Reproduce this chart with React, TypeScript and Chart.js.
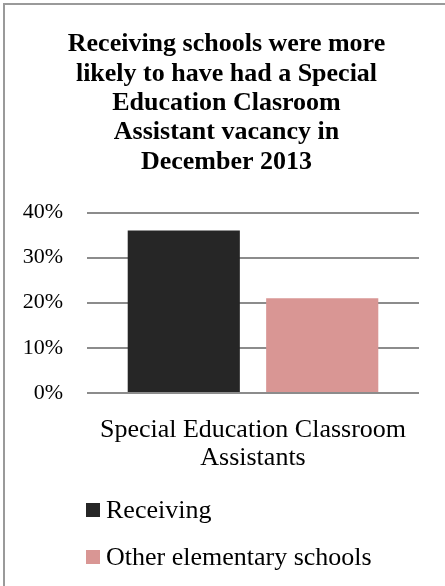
import React, { useEffect, useRef } from "react";
import { Chart, registerables } from "chart.js";

Chart.register(...registerables);

const titleLines = [
  "Receiving schools were more",
  "likely to have had a Special",
  "Education Clasroom",
  "Assistant vacancy in",
  "December 2013",
];
const categories = [["Special Education Classroom", "Assistants"]];
const seriesNames = ["Receiving", "Other elementary schools"];
const receivingValues = [36];
const otherValues = [21];
const seriesColors = ["#262626", "#d99694"];
const yTicks = [0, 10, 20, 30, 40];

const FONT = '"Liberation Serif", "Times New Roman", serif';

const legendPlugin = {
  id: "verticalLegend",
  afterDraw(chart: any) {
    const ctx = chart.ctx;
    const xScale = chart.scales.x;
    const left = chart.chartArea.left - 1;
    const startY = xScale.bottom + 14;
    const rowGap = 47;
    ctx.save();
    ctx.font = `26px ${FONT}`;
    ctx.textBaseline = "middle";
    ctx.textAlign = "left";
    chart.data.datasets.forEach((ds: any, i: number) => {
      const cy = startY + i * rowGap;
      ctx.fillStyle = ds.backgroundColor;
      ctx.fillRect(left, cy - 7, 14, 14);
      ctx.fillStyle = "#000";
      ctx.fillText(ds.label, left + 20, cy + 1);
    });
    ctx.restore();
  },
};

export default function App() {
  const ref = useRef<HTMLCanvasElement | null>(null);
  useEffect(() => {
    if (!ref.current) return;
    const chart = new Chart(ref.current, {
      type: "bar",
      data: {
        labels: categories as any,
        datasets: [
          {
            label: seriesNames[0],
            data: receivingValues,
            backgroundColor: seriesColors[0],
            categoryPercentage: 0.834,
            barPercentage: 0.81,
          },
          {
            label: seriesNames[1],
            data: otherValues,
            backgroundColor: seriesColors[1],
            categoryPercentage: 0.834,
            barPercentage: 0.81,
          },
        ],
      },
      options: {
        responsive: false,
        animation: false,
        layout: { padding: { top: 0, left: 20, right: 12, bottom: 90 } },
        plugins: {
          legend: { display: false },
          tooltip: { enabled: false },
          title: {
            display: true,
            text: titleLines,
            color: "#000",
            font: { family: FONT, size: 26, weight: "bold", lineHeight: 1.127 },
            padding: { top: 30, bottom: 36 },
          },
        },
        scales: {
          y: {
            min: yTicks[0],
            max: yTicks[yTicks.length - 1],
            afterBuildTicks: (axis: any) => {
              axis.ticks = yTicks.map((v) => ({ value: v }));
            },
            afterFit: (axis: any) => {
              axis.width = 67;
            },
            ticks: {
              color: "#000",
              font: { family: FONT, size: 22 },
              padding: 24,
              callback: (v: any) => `${v}%`,
            },
            grid: { color: "#8c8c8c", lineWidth: 2, drawTicks: false },
            border: { display: false },
          },
          x: {
            afterFit: (axis: any) => {
              axis.paddingLeft = 0;
              axis.paddingRight = 26;
            },
            ticks: {
              color: "#000",
              font: { family: FONT, size: 26, lineHeight: 1.06 },
              padding: 24,
            },
            grid: { display: false, drawTicks: false },
            border: { display: false },
          },
        },
      },
      plugins: [legendPlugin],
    });
    return () => chart.destroy();
  }, []);

  return (
    <div
      style={{
        position: "fixed",
        left: 0,
        top: 0,
        width: 445,
        height: 586,
        background: "#fff",
        overflow: "hidden",
      }}
    >
      <div
        style={{
          position: "absolute",
          left: 3,
          top: 3,
          width: 460,
          height: 600,
          borderLeft: "2px solid #9a9a9a",
          borderTop: "2px solid #9a9a9a",
        }}
      />
      <canvas
        ref={ref}
        width={445}
        height={586}
        style={{ position: "absolute", left: 0, top: 0, width: 445, height: 586 }}
      />
    </div>
  );
}
